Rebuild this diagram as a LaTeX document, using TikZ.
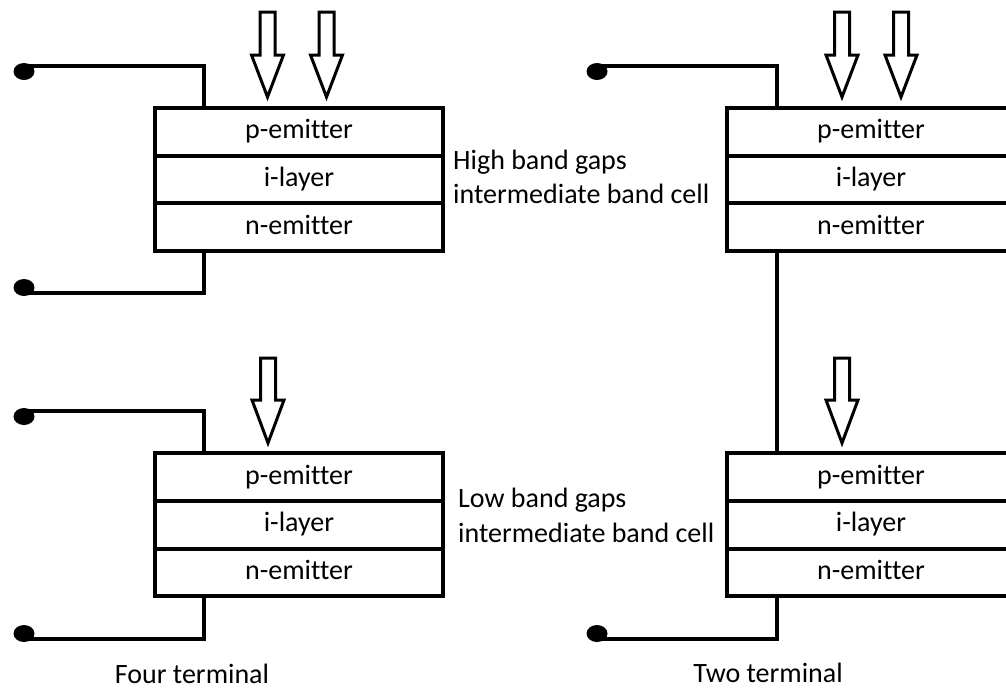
\documentclass[tikz,border=0pt]{standalone}
\usepackage{fontspec}
\setmainfont{Carlito}[Ligatures={NoCommon}]
\begin{document}
\begin{tikzpicture}[x=1pt,y=-1pt,
  wire/.style={line width=4pt},
  layer/.style={draw,line width=4pt,minimum width=288pt,minimum height=47.7pt,
    inner sep=0pt,outer sep=0pt,text height=20pt,text depth=6pt,
    font=\fontsize{28}{34}\selectfont},
  caption/.style={inner sep=0pt,font=\fontsize{28}{34}\selectfont},
  beam/.style={draw,line width=3pt,line join=miter,fill=white},
  dotend/.style={fill=black}]
\useasboundingbox (0,0) rectangle (1006,689);
\clip (0,0) rectangle (1006,689);

% light-beam arrow: centre x, shaft top, head start, tip
\newcommand{\sunray}[4]{%
  \draw[beam] (#1-7.5,#2) -- (#1+7.5,#2) -- (#1+7.5,#3) -- (#1+16,#3)
    -- (#1,#4) -- (#1-16,#3) -- (#1-7.5,#3) -- cycle;}

% ---------- four-terminal stack ----------
\node[layer] (p1) at (299,131.8) {p-emitter};
\node[layer,anchor=north] (i1) at (p1.south) {i-layer};
\node[layer,anchor=north] (n1) at (i1.south) {n-emitter};

\node[layer] (p3) at (299,477) {p-emitter};
\node[layer,anchor=north] (i3) at (p3.south) {i-layer};
\node[layer,anchor=north] (n3) at (i3.south) {n-emitter};

\coordinate (a1) at (24,66);
\coordinate (b1) at (24,293);
\coordinate (a3) at (24,411);
\coordinate (b3) at (24,639);
\draw[wire] (a1) -| ([xshift=-95pt]p1.north);
\draw[wire] ([xshift=-95pt]n1.south) |- (b1);
\draw[wire] (a3) -| ([xshift=-95pt]p3.north);
\draw[wire] ([xshift=-95pt]n3.south) |- (b3);
\fill[dotend] (a1) ++(0,5.5) ellipse [x radius=10.5pt, y radius=8.5pt];
\fill[dotend] (b1) ++(0,-5.5) ellipse [x radius=10.5pt, y radius=8.5pt];
\fill[dotend] (a3) ++(0,5.5) ellipse [x radius=10.5pt, y radius=8.5pt];
\fill[dotend] (b3) ++(0,-5.5) ellipse [x radius=10.5pt, y radius=8.5pt];

\sunray{267.5}{12}{55}{97}
\sunray{326.5}{12}{55}{97}
\sunray{268}{358}{400}{443}

% ---------- two-terminal stack ----------
\node[layer] (p2) at (871,131.8) {p-emitter};
\node[layer,anchor=north] (i2) at (p2.south) {i-layer};
\node[layer,anchor=north] (n2) at (i2.south) {n-emitter};

\node[layer] (p4) at (871,477) {p-emitter};
\node[layer,anchor=north] (i4) at (p4.south) {i-layer};
\node[layer,anchor=north] (n4) at (i4.south) {n-emitter};

\coordinate (a2) at (597,66);
\coordinate (b4) at (597,639);
\draw[wire] (a2) -| ([xshift=-94pt]p2.north);
\draw[wire] ([xshift=-94pt]n2.south) -- ([xshift=-94pt]p4.north);
\draw[wire] ([xshift=-94pt]n4.south) |- (b4);
\fill[dotend] (a2) ++(0,5.5) ellipse [x radius=10.5pt, y radius=8.5pt];
\fill[dotend] (b4) ++(0,-5.5) ellipse [x radius=10.5pt, y radius=8.5pt];

\sunray{842}{12}{55}{97}
\sunray{901}{12}{55}{97}
\sunray{842}{358}{400}{443}

% ---------- captions ----------
\node[caption,anchor=base west] (hi1) at (453,169) {High band gaps};
\node[caption,anchor=base west] (hi2) at (453,203) {intermediate band cell};
\node[caption,anchor=base west] (lo1) at (458,507) {Low band gaps};
\node[caption,anchor=base west] (lo2) at (458,542) {intermediate band cell};
\node[caption,anchor=base] (four) at (192,683) {Four terminal};
\node[caption,anchor=base] (two) at (768,682) {Two terminal};
\end{tikzpicture}
\end{document}
